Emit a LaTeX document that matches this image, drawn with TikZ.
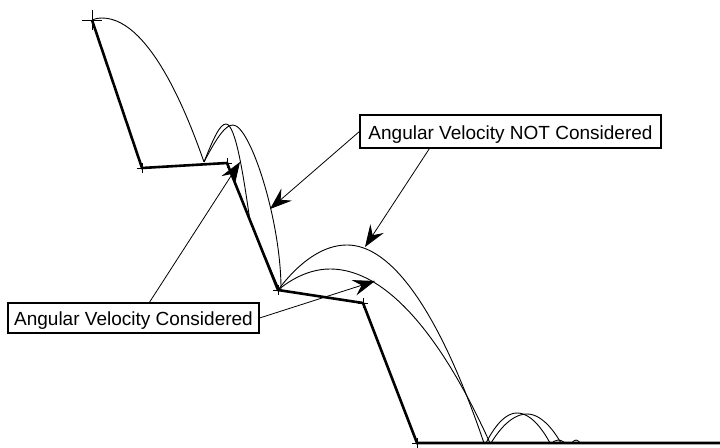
\documentclass[tikz,border=0pt]{standalone}
\usepackage{fontspec}
\setmainfont{Liberation Sans}
\usepackage{tikz}
\usetikzlibrary{arrows.meta, positioning, calc}
\tikzstyle{ground} = [line width=2.6pt]
\tikzstyle{leader} = [line width=0.8pt, -{Stealth[length=22pt, width=16pt, inset=8pt]}]

\begin{document}
\begin{tikzpicture}
	[x=1pt, y=-1pt,
	track/.style={line width=0.9pt},
	cross/.style={line width=1pt},
	velbox/.style={draw, line width=1.2pt, inner sep=0pt, text height=15pt, text depth=0pt, font=\fontsize{19}{22}\selectfont}]
	\useasboundingbox (0,0) rectangle (720,447);

	\coordinate (top) at (92,20);
	\coordinate (ledge1) at (142,168);
	\coordinate (lip1) at (227,163);
	\coordinate (ledge2) at (278,290);
	\coordinate (lip2) at (363,303);
	\coordinate (floor) at (417,443);
	\coordinate (far) at (720,443);

	\draw[ground] (top) -- (ledge1) -- (lip1) -- (ledge2) -- (lip2) -- (floor) -- (far);
	\draw[cross] (top) +(-10,0) -- +(10,0) +(0,-10) -- +(0,10);
	\foreach \v in {ledge1, lip1, ledge2, lip2, floor}
		\draw[cross] (\v) +(-5,0) -- +(5,0) +(0,-5) -- +(0,5);

	% first flight, both cases
	\coordinate (hit1) at (204,162);
	\draw[track] (top) parabola bend (102,18) (hit1);
	% second flight
	\draw[track] (hit1) .. controls (214,137) and (220,124) .. (226,124)
		.. controls (236,124) and (244,180) .. (250,221) -- (279,289);
	\draw[track] (hit1) .. controls (218,135) and (226,125) .. (233,125)
		.. controls (250,125) and (281,220) .. (281,289);
	% third flight
	\draw[track] (ledge2) parabola bend (347,245) (484,443);
	\draw[track] (ledge2) parabola bend (330,269) (490,443);
	% small hops
	\draw[track] (486,443) parabola bend (517,413) (550,443);
	\draw[track] (491,443) parabola bend (527,414) (561,443);
	\draw[track] (552,443) parabola bend (558,440) (565,443);
	\draw[track] (572,443) parabola bend (576,440) (580,443);

	\node[velbox, minimum width=301pt, minimum height=33pt] (notbox) at (510.5,131.5) {Angular Velocity NOT Considered};
	\node[velbox, minimum width=251pt, minimum height=30pt] (yesbox) at (133.5,318) {Angular Velocity Considered};

	\coordinate (notA) at (270,209);
	\coordinate (notB) at (365,247);
	\coordinate (yesA) at (240,162);
	\coordinate (yesB) at (375,281);
	\draw[leader] (notbox.west) -- (notA);
	\draw[leader] ($(notbox.south west)+(70,0)$) -- (notB);
	\draw[leader] ($(yesbox.north west)+(142,0)$) -- (yesA);
	\draw[leader] (yesbox.east) -- (yesB);
\end{tikzpicture}
\end{document}
